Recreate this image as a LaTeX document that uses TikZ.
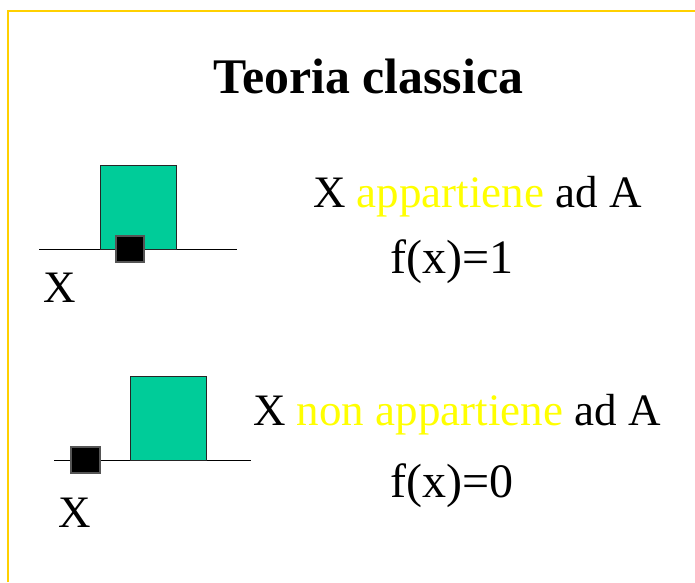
\documentclass[tikz,border=0pt]{standalone}
\usepackage{fontspec}
\setmainfont{Liberation Serif}
\definecolor{boxgreen}{HTML}{00CC99}
\definecolor{frameyellow}{HTML}{FFD000}
\definecolor{txtyellow}{HTML}{FFFF00}
\definecolor{sqedge}{HTML}{555555}
\tikzset{
  txt/.style={anchor=base west, inner sep=0pt, font=\fontsize{45}{50}\selectfont},
  ftxt/.style={anchor=base west, inner sep=0pt, font=\fontsize{48}{52}\selectfont},
  titletxt/.style={anchor=base, inner sep=0pt, font=\fontsize{49.8}{54}\selectfont\bfseries},
  setbox/.style={draw=black!85, line width=0.8pt, fill=boxgreen},
  elem/.style={draw=sqedge, line width=1.2pt, fill=black},
  axis/.style={draw=black, line width=0.9pt},
  frameline/.style={draw=frameyellow, line width=2.5pt}
}
\begin{document}
\begin{tikzpicture}[x=1pt,y=-1pt]
\useasboundingbox (0,0) rectangle (695,582);
\fill[white] (0,0) rectangle (695,582);
\draw[frameline] (8,582) -- (8,11) -- (695,11);
% title
\node[titletxt] (title) at (368.5,93) {Teoria classica};
% first case
\coordinate (l1a) at (39,249);
\coordinate (l1b) at (237,249);
\draw[axis] (l1a) -- (l1b);
\path[setbox] (100,165) rectangle (176,249);
\path[elem] (116,236) rectangle (144,262);
\node[txt] (x1) at (43,302) {X};
\node[txt] (t1) at (313,207) {X \textcolor{txtyellow}{appartiene} ad A};
\node[ftxt] (f1) at (390,273) {f(x)=1};
% second case
\coordinate (l2a) at (54,460);
\coordinate (l2b) at (251,460);
\draw[axis] (l2a) -- (l2b);
\path[setbox] (130,376) rectangle (206,460);
\path[elem] (71,447) rectangle (100,473);
\node[txt] (x2) at (58,527) {X};
\node[txt] (t2) at (253,425) {X \textcolor{txtyellow}{non appartiene} ad A};
\node[ftxt] (f2) at (390,497) {f(x)=0};
\end{tikzpicture}
\end{document}
